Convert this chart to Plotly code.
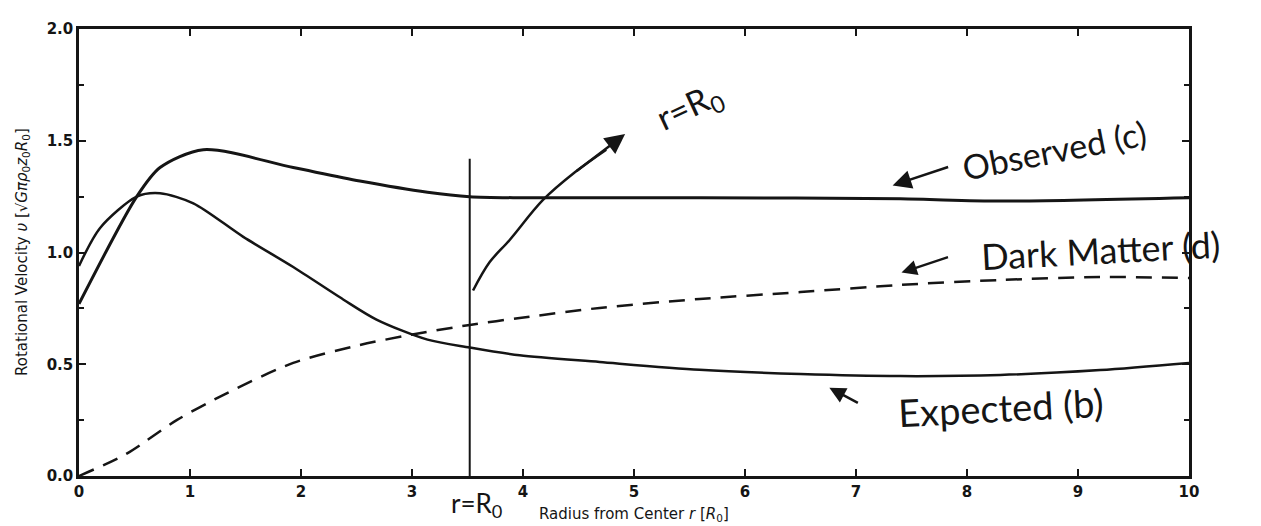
import plotly.graph_objects as go

# ---- data ----
obs_r = [0.0, 0.52, 0.73, 1.12, 1.93, 2.53, 3.14, 3.52, 3.97, 5.6, 7.4, 8.3, 10.0]
obs_v = [0.77, 1.25, 1.38, 1.46, 1.38, 1.32, 1.27, 1.25, 1.245, 1.245, 1.24, 1.23, 1.245]

exp_r = [0.0, 0.19, 0.52, 0.73, 1.03, 1.48, 1.93, 2.38, 2.68, 3.14, 3.52, 3.97, 4.69, 5.59, 6.5, 7.4, 8.3, 9.2, 10.0]
exp_v = [0.94, 1.11, 1.25, 1.265, 1.22, 1.07, 0.935, 0.79, 0.70, 0.61, 0.575, 0.54, 0.51, 0.475, 0.456, 0.447, 0.452, 0.474, 0.506]

dm_r = [0.0, 0.43, 0.88, 1.33, 1.93, 2.53, 2.98, 3.52, 3.97, 4.69, 5.59, 6.5, 7.4, 8.3, 9.2, 10.0]
dm_v = [0.0, 0.10, 0.25, 0.37, 0.506, 0.586, 0.631, 0.676, 0.707, 0.752, 0.792, 0.823, 0.855, 0.877, 0.89, 0.886]

r0_line_r = [3.52, 3.52]
r0_line_v = [0.0, 1.42]

arrow_r = [3.55, 3.70, 3.88, 4.18, 4.47, 4.75]
arrow_v = [0.83, 0.957, 1.056, 1.235, 1.36, 1.46]

x_ticks = [0, 1, 2, 3, 4, 5, 6, 7, 8, 9, 10]
y_ticks = [0.0, 0.5, 1.0, 1.5, 2.0]
y_labels = ["0.0", "0.5", "1.0", "1.5", "2.0"]

INK = "#151515"
HAND = "Lato"

fig = go.Figure()
fig.add_trace(go.Scatter(x=obs_r, y=obs_v, mode="lines", line=dict(color=INK, width=3, shape="spline", smoothing=0.8), showlegend=False))
fig.add_trace(go.Scatter(x=exp_r, y=exp_v, mode="lines", line=dict(color=INK, width=2.5, shape="spline", smoothing=0.8), showlegend=False))
fig.add_trace(go.Scatter(x=dm_r, y=dm_v, mode="lines", line=dict(color=INK, width=2.5, dash="16px,10px", shape="spline", smoothing=0.8), showlegend=False))
fig.add_trace(go.Scatter(x=r0_line_r, y=r0_line_v, mode="lines", line=dict(color=INK, width=2), showlegend=False))
fig.add_trace(go.Scatter(x=arrow_r, y=arrow_v, mode="lines", line=dict(color=INK, width=2.5, shape="spline"), showlegend=False))

anns = []
# arrow head of the r=R0 arrow
anns.append(dict(x=4.92, y=1.53, ax=arrow_r[-2], ay=arrow_v[-2], xref="x", yref="y", axref="x", ayref="y",
                 text="", showarrow=True, arrowhead=2, arrowsize=1.6, arrowwidth=2.5, arrowcolor=INK))
# Observed arrow
anns.append(dict(x=7.33, y=1.30, ax=57, ay=-19, xref="x", yref="y", text="", showarrow=True,
                 arrowhead=2, arrowsize=1.5, arrowwidth=2.5, arrowcolor=INK))
# Dark matter arrow
anns.append(dict(x=7.41, y=0.91, ax=48, ay=-16, xref="x", yref="y", text="", showarrow=True,
                 arrowhead=2, arrowsize=1.4, arrowwidth=2.2, arrowcolor=INK))
# Expected arrow
anns.append(dict(x=6.76, y=0.395, ax=30, ay=16, xref="x", yref="y", text="", showarrow=True,
                 arrowhead=2, arrowsize=1.3, arrowwidth=2.5, arrowcolor=INK))

# handwritten labels
anns.append(dict(x=5.5, y=1.65, xref="x", yref="y", text="r=R<sub>0</sub>", showarrow=False,
                 textangle=-25, font=dict(family=HAND, size=34, color=INK)))
anns.append(dict(x=8.79, y=1.46, xref="x", yref="y", text="Observed (c)", showarrow=False,
                 textangle=-11, font=dict(family=HAND, size=34, color=INK)))
anns.append(dict(x=9.2, y=1.01, xref="x", yref="y", text="Dark Matter (d)", showarrow=False,
                 textangle=-3, font=dict(family=HAND, size=36, color=INK)))
anns.append(dict(x=8.3, y=0.31, xref="x", yref="y", text="Expected (b)", showarrow=False,
                 textangle=-3, font=dict(family=HAND, size=38, color=INK)))
anns.append(dict(x=3.58, y=0, xref="x", yref="paper", yanchor="top", yshift=-9,
                 text="r=R<sub>0</sub>",
                 showarrow=False, font=dict(family=HAND, size=26, color=INK)))
# x-axis title
anns.append(dict(x=0.5, y=0, xref="paper", yref="paper", yanchor="top", yshift=-27,
                 text="Radius from Center <i>r</i> [<i>R</i><sub>0</sub>]", showarrow=False,
                 font=dict(family="DejaVu Sans", size=15, color=INK)))
# y-axis title
anns.append(dict(x=0, y=0.5, xref="paper", yref="paper", xanchor="right", xshift=-45, textangle=-90,
                 text="Rotational Velocity <i>υ</i> [√<i>Gπρ</i><sub>0</sub><i>z</i><sub>0</sub><i>R</i><sub>0</sub>]",
                 showarrow=False, font=dict(family="DejaVu Sans", size=15, color=INK)))

# page body has an 8px margin, so the figure is drawn 8px smaller and margins reduced accordingly
fig.update_layout(
    width=1253, height=518,
    margin=dict(l=71, r=72, t=21, b=50),
    paper_bgcolor="white", plot_bgcolor="white",
    annotations=anns,
    font=dict(family="DejaVu Sans", color=INK),
)
fig.update_xaxes(range=[0, 10], tickvals=x_ticks, ticks="inside", ticklen=7, tickwidth=1.5, tickcolor=INK,
                 showline=True, linecolor=INK, linewidth=2.5, mirror="ticks", showgrid=False, zeroline=False,
                 tickfont=dict(family="DejaVu Sans", size=15, color=INK, weight="bold"))
fig.update_yaxes(range=[0, 2], tickvals=y_ticks, ticktext=y_labels, ticks="inside", ticklen=7, tickwidth=1.5,
                 tickcolor=INK, showline=True, linecolor=INK, linewidth=2.5, mirror="ticks", showgrid=False,
                 zeroline=False, minor=dict(dtick=0.25, ticks="inside", ticklen=5, tickcolor=INK),
                 tickfont=dict(family="DejaVu Sans", size=15, color=INK, weight="bold"))

fig.write_html("out.html")
